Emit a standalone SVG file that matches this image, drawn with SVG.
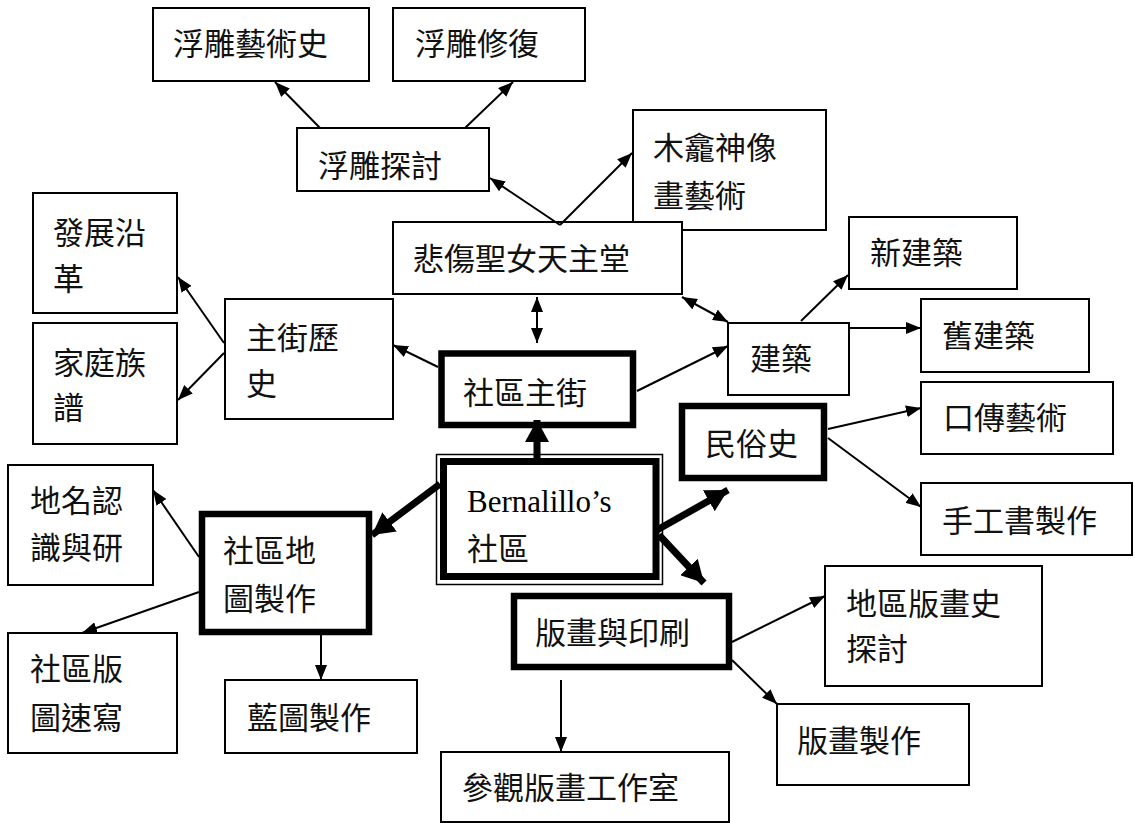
<svg xmlns="http://www.w3.org/2000/svg" width="1135" height="823" viewBox="0 0 1135 823">
<style>
.b{fill:#fff;stroke:#000;stroke-width:2}
.k{fill:#fff;stroke:#000;stroke-width:6.5}
.t{font-family:"Noto Sans CJK TC","Noto Sans CJK SC",sans-serif;font-size:31px;fill:#111}
.s{font-family:"Liberation Serif",serif;font-size:31px;fill:#000}
.c line{stroke:#000;stroke-width:2;marker-end:url(#a)}
.c line.th{stroke-width:7;marker-end:url(#A)}
.c line.d{marker-start:url(#a)}
</style>
<defs>
<marker id="a" markerUnits="userSpaceOnUse" markerWidth="16" markerHeight="12" refX="15" refY="6" orient="auto-start-reverse"><path d="M0,0 L15,6 L0,12 z" fill="#000"/></marker>
<marker id="A" markerUnits="userSpaceOnUse" markerWidth="24" markerHeight="24" refX="22" refY="12" orient="auto"><path d="M0,0 L22,12 L0,24 z" fill="#000"/></marker>
</defs>
<rect width="1135" height="823" fill="#fff"/>
<g id="n1"><rect class="b" x="153" y="8" width="216" height="73"/><text class="t" x="173" y="55">浮雕藝術史</text></g>
<g id="n2"><rect class="b" x="393" y="8" width="192" height="73"/><text class="t" x="415" y="55">浮雕修復</text></g>
<g id="n3"><rect class="b" x="297" y="128" width="192" height="63"/><text class="t" x="318" y="177">浮雕探討</text></g>
<g id="n4"><rect class="b" x="633" y="110" width="193" height="120"/><text class="t" x="653" y="159">木龕神像</text><text class="t" x="653" y="207">畫藝術</text></g>
<g id="n5"><rect class="b" x="393" y="222" width="289" height="72"/><text class="t" x="413" y="270">悲傷聖女天主堂</text></g>
<g id="n6"><rect class="b" x="33" y="193" width="144" height="120"/><text class="t" x="53" y="244">發展沿</text><text class="t" x="53" y="290">革</text></g>
<g id="n7"><rect class="b" x="33" y="323" width="144" height="121"/><text class="t" x="53" y="374">家庭族</text><text class="t" x="53" y="419">譜</text></g>
<g id="n8"><rect class="b" x="225" y="299" width="168" height="120"/><text class="t" x="246" y="349">主街歷</text><text class="t" x="246" y="395">史</text></g>
<g id="n9"><rect class="k" x="441.5" y="353.5" width="191.5" height="71.5"/><text class="t" x="463" y="404">社區主街</text></g>
<g id="n10"><rect class="b" x="849" y="217" width="168" height="72"/><text class="t" x="870" y="264">新建築</text></g>
<g id="n11"><rect class="b" x="728" y="323" width="121" height="72"/><text class="t" x="750" y="370">建築</text></g>
<g id="n12"><rect class="b" x="921" y="299" width="168" height="73"/><text class="t" x="942" y="347">舊建築</text></g>
<g id="n13"><rect class="k" x="682" y="406" width="142" height="72"/><text class="t" x="705" y="455">民俗史</text></g>
<g id="n14"><rect class="b" x="921" y="382" width="192" height="72"/><text class="t" x="943" y="429">口傳藝術</text></g>
<g id="n15"><rect class="b" x="921" y="483" width="211" height="72"/><text class="t" x="942" y="532">手工書製作</text></g>
<g id="n16"><rect x="436.5" y="454.5" width="226" height="130" fill="#fff" stroke="#000" stroke-width="1.5"/><rect x="443.5" y="461.5" width="212.5" height="115" fill="none" stroke="#000" stroke-width="7"/><text class="s" x="467" y="512">Bernalillo’s</text><text class="t" x="467" y="560">社區</text></g>
<g id="n17"><rect class="b" x="8" y="465" width="145" height="120"/><text class="t" x="30" y="512">地名認</text><text class="t" x="30" y="559">識與研</text></g>
<g id="n18"><rect class="k" x="202" y="514" width="167" height="118"/><text class="t" x="223" y="562">社區地</text><text class="t" x="223" y="610">圖製作</text></g>
<g id="n19"><rect class="b" x="8" y="633" width="169" height="120"/><text class="t" x="30" y="680">社區版</text><text class="t" x="30" y="729">圖速寫</text></g>
<g id="n20"><rect class="b" x="225" y="680" width="192" height="73"/><text class="t" x="247" y="729">藍圖製作</text></g>
<g id="n21"><rect class="k" x="514" y="596" width="215" height="71"/><text class="t" x="535" y="644">版畫與印刷</text></g>
<g id="n22"><rect class="b" x="825" y="566" width="217" height="120"/><text class="t" x="846" y="615">地區版畫史</text><text class="t" x="846" y="660">探討</text></g>
<g id="n23"><rect class="b" x="777" y="704" width="192" height="81"/><text class="t" x="797" y="752">版畫製作</text></g>
<g id="n24"><rect class="b" x="441" y="752" width="288" height="70"/><text class="t" x="462" y="799">參觀版畫工作室</text></g>
<g id="connectors" class="c">
<line x1="320" y1="128" x2="275" y2="82"/>
<line x1="465" y1="128" x2="513" y2="82"/>
<line x1="560" y1="225" x2="490" y2="178"/>
<line x1="560" y1="225" x2="632" y2="153"/>
<line class="d" x1="537" y1="297" x2="537" y2="343"/>
<line class="d" x1="682" y1="297" x2="728" y2="322"/>
<line x1="224" y1="343" x2="178" y2="277"/>
<line x1="224" y1="353" x2="178" y2="400"/>
<line x1="438" y1="367" x2="393" y2="345"/>
<line x1="637" y1="391" x2="728" y2="346"/>
<line x1="801" y1="321" x2="848" y2="275"/>
<line x1="849" y1="328" x2="921" y2="328"/>
<line x1="828" y1="429" x2="921" y2="408"/>
<line x1="828" y1="438" x2="921" y2="507"/>
<line x1="199" y1="557" x2="153" y2="490"/>
<line x1="199" y1="592" x2="82" y2="633"/>
<line x1="321" y1="635" x2="321" y2="680"/>
<line x1="732" y1="642" x2="825" y2="596"/>
<line x1="732" y1="660" x2="777" y2="704"/>
<line x1="561" y1="680" x2="561" y2="752"/>
<line class="th" x1="537" y1="458" x2="537" y2="420"/>
<line class="th" x1="440" y1="484" x2="372" y2="535"/>
<line class="th" x1="657" y1="530" x2="728" y2="490"/>
<line class="th" x1="659" y1="535" x2="704" y2="583"/>
</g>
</svg>
